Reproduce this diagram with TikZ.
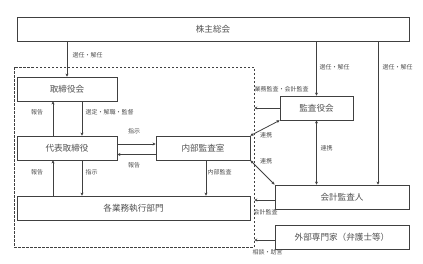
\documentclass[tikz,border=0pt]{standalone}
\usepackage{fontspec}
\setmainfont{Noto Sans CJK JP}
\usetikzlibrary{arrows.meta,positioning,calc}
\definecolor{orgLine}{HTML}{404040}
\definecolor{orgText}{HTML}{505050}
\tikzset{
  orgbox/.style={
    draw=orgLine, line width=0.8pt, minimum height=24pt, inner sep=0pt,
    font=\fontsize{8.6}{10}\selectfont, text=orgText
  },
  lab/.style={font=\fontsize{6}{7}\selectfont, text=orgText, inner sep=0.5pt},
  arr/.style={-{Stealth[length=3pt,width=3pt]}, line width=0.8pt, orgLine},
  biarr/.style={{Stealth[length=3pt,width=3pt]}-{Stealth[length=3pt,width=3pt]}, line width=0.8pt, orgLine},
  group/.style={draw=orgLine, line width=0.6pt, dash pattern=on 2.5pt off 1.5pt, minimum width=240pt, minimum height=180pt}
}
\begin{document}
\begin{tikzpicture}[x=1pt, y=-1pt]
  \useasboundingbox (0,0) rectangle (423,263);
  % boxes
  \node[group] (grp) at (134,157) {};
  \node[orgbox, minimum width=392pt] (kabu) at (213,29) {株主総会};
  \node[orgbox, minimum width=100pt] (tori) at (67,89) {取締役会};
  \node[orgbox, minimum width=100pt] (daihyo) at (67,148) {代表取締役};
  \node[orgbox, minimum width=94pt] (naibu) at (203,148) {内部監査室};
  \node[orgbox, minimum width=73pt] (kansa) at (316.5,108) {監査役会};
  \node[orgbox, minimum width=134pt] (kaikei) at (342,197) {会計監査人};
  \node[orgbox, minimum width=134pt] (gaibu) at (342,237) {外部専門家（弁護士等）};
  \node[orgbox, minimum width=233pt] (gyomu) at (133.5,208) {各業務執行部門};
  \coordinate (kaikeiR) at ([xshift=36pt]kaikei.north);
  \coordinate (toriL) at ([xshift=-14pt]tori.south);
  \coordinate (toriR) at ([xshift=15pt]tori.south);
  \coordinate (naibuB) at ([xshift=3pt]naibu.south);
  % shareholders
  \draw[arr] (kabu.south -| tori.north) -- (tori.north);
  \draw[arr] (kabu.south -| kansa.north) -- (kansa.north);
  \draw[arr] (kabu.south -| kaikeiR) -- (kaikeiR);
  % board and representative
  \draw[arr] (daihyo.north -| toriL) -- (toriL);
  \draw[arr] (toriR) -- (daihyo.north -| toriR);
  \draw[arr] (gyomu.north -| toriL) -- (daihyo.south -| toriL);
  \draw[arr] (daihyo.south -| toriR) -- (gyomu.north -| toriR);
  \draw[arr] ([yshift=4pt]daihyo.east) -- ([yshift=4pt]naibu.west);
  \draw[arr] ([yshift=-6.5pt]naibu.west) -- ([yshift=-6.5pt]daihyo.east);
  \draw[arr] (naibuB) -- (naibuB |- gyomu.north);
  % auditors
  \draw[arr] (kansa.west) -- (kansa.west -| grp.east);
  \draw[biarr] (kansa.south west) -- (naibu.north east);
  \draw[biarr] (naibu.south east) -- (kaikei.north west);
  \draw[biarr] (kansa.south) -- (kansa.south |- kaikei.north);
  \draw[arr] ([yshift=-3pt]kaikei.west) -- ([yshift=-3pt]kaikei.west -| grp.east);
  \draw[arr] ([yshift=-3pt]gaibu.west) -- ([yshift=-3pt]gaibu.west -| grp.east);
  % labels
  \node[lab, anchor=west] (l1) at (72,55) {選任・解任};
  \node[lab, anchor=west] (l2) at (319,67) {選任・解任};
  \node[lab, anchor=west] (l3) at (382,67) {選任・解任};
  \node[lab, anchor=west] (l4) at (254,89) {業務監査・会計監査};
  \node[lab] (l5) at (37,112) {報告};
  \node[lab, anchor=west] (l6) at (85,112) {選定・解職・監督};
  \node[lab] (l7) at (134,131) {指示};
  \node[lab] (l8) at (134,165) {報告};
  \node[lab] (l9) at (37,172) {報告};
  \node[lab, anchor=west] (l10) at (85,172) {指示};
  \node[lab, anchor=west] (l11) at (207,172) {内部監査};
  \node[lab] (l12) at (266,135) {連携};
  \node[lab, anchor=west] (l13) at (320,148) {連携};
  \node[lab] (l14) at (266,161) {連携};
  \node[lab, anchor=west] (l15) at (253,212) {会計監査};
  \node[lab, anchor=west] (l16) at (252,252) {相談・助言};
\end{tikzpicture}
\end{document}
